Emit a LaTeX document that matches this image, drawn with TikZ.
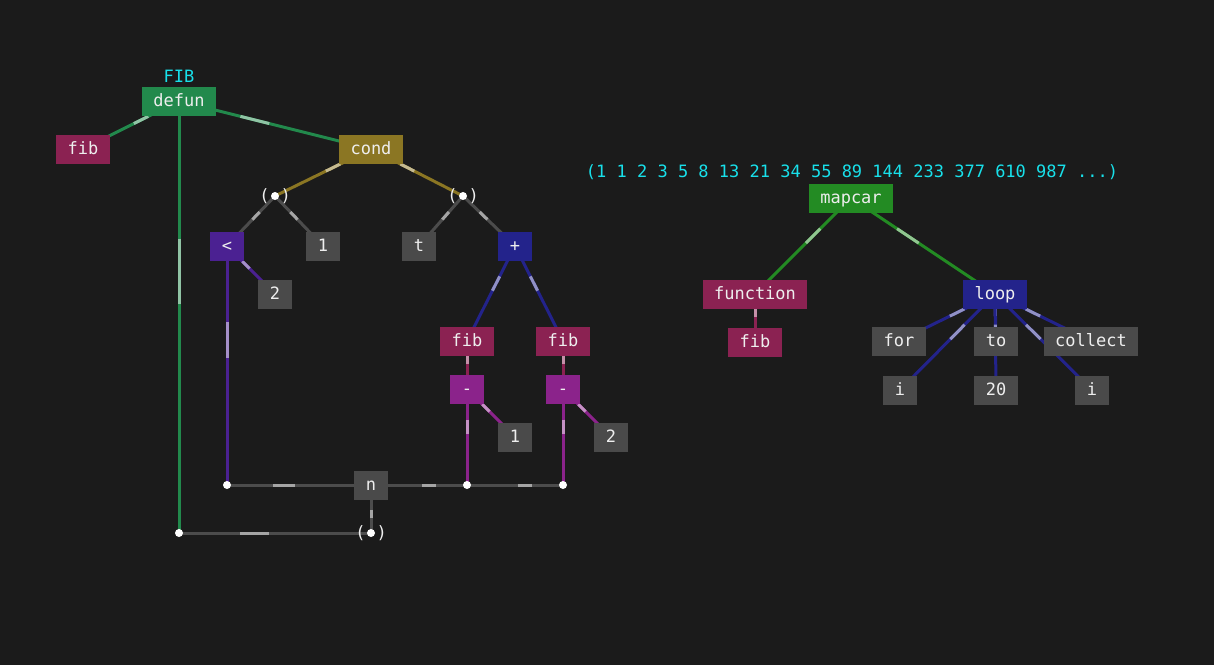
\documentclass[tikz,border=0pt]{standalone}
\usepackage{fontspec}
\setmonofont{DejaVu Sans Mono}
\usepackage{xcolor}
\usetikzlibrary{calc}
\definecolor{bgc}{HTML}{1B1B1B}
\definecolor{boxtext}{HTML}{EEEEEE}
\definecolor{cyanTxt}{HTML}{18E0EA}
\definecolor{defunGreen}{HTML}{22894C}
\definecolor{mapGreen}{HTML}{238B23}
\definecolor{fibRed}{HTML}{8B2252}
\definecolor{condOlive}{HTML}{8B7623}
\definecolor{ltPurple}{HTML}{4B2192}
\definecolor{opNavy}{HTML}{23238B}
\definecolor{minusMag}{HTML}{8B238B}
\definecolor{atomGray}{HTML}{4A4A4A}
\definecolor{wireGray}{HTML}{4C4C4C}
\pgfdeclarelayer{back}
\pgfdeclarelayer{wires}
\pgfsetlayers{back,wires,main}
\tikzset{
  box/.style={rectangle, fill=#1, text=boxtext, font=\ttfamily\fontsize{17}{19}\selectfont,
    minimum height=29pt, inner xsep=11.5pt, inner ysep=0pt, text height=13pt, text depth=3pt},
  box/.default=atomGray,
  cyanLbl/.style={text=cyanTxt, font=\ttfamily\fontsize{17}{19}\selectfont, inner sep=0pt},
  parenLbl/.style={text=boxtext, font=\ttfamily\fontsize{17}{19}\selectfont, inner sep=0pt},
  wire/.style={line width=3pt},
  dot/.style={circle, fill=white, inner sep=0pt, minimum size=8pt},
}
% line from parent to child, with a light band a third of the way down
\newcommand{\lnk}[3]{%
  \draw[wire, draw=#1] (#2) -- (#3);
  \draw[wire, draw=#1!50!white] ($(#2)!0.32!(#3)$) -- ($(#2)!0.47!(#3)$);
}
\begin{document}
\begin{tikzpicture}[x=1pt, y=-1pt]
  \begin{pgfonlayer}{back}
    \fill[bgc] (0,0) rectangle (1214,665);
  \end{pgfonlayer}

  % fib definition
  \node[cyanLbl] (name) at (179,76) {FIB};
  \node[box=defunGreen] (defun) at (179,101) {defun};
  \node[box=fibRed] (fibname) at (83,149) {fib};
  \node[box=condOlive] (cond) at (371,149) {cond};
  \node[parenLbl] (pa) at (275,196) {(\hspace{11pt})};
  \node[parenLbl] (pb) at (463,196) {(\hspace{11pt})};
  \node[box=ltPurple] (lt) at (227,246) {<};
  \node[box] (one) at (323,246) {1};
  \node[box] (tt) at (419,246) {t};
  \node[box=opNavy] (plus) at (515,246) {+};
  \node[box] (two) at (275,294) {2};
  \node[box=fibRed] (fibl) at (467,341) {fib};
  \node[box=fibRed] (fibr) at (563,341) {fib};
  \node[box=minusMag] (minl) at (467,389) {-};
  \node[box=minusMag] (minr) at (563,389) {-};
  \node[box] (onel) at (515,437) {1};
  \node[box] (twor) at (611,437) {2};
  \node[box] (n) at (371,485) {n};
  \node[parenLbl] (args) at (371,533) {(\hspace{11pt})};

  \coordinate (useA) at (227,485);
  \coordinate (useB) at (467,485);
  \coordinate (useC) at (563,485);
  \coordinate (corner) at (179,533);

  % mapcar
  \node[cyanLbl] (result) at (852,172) {(1 1 2 3 5 8 13 21 34 55 89 144 233 377 610 987 ...)};
  \node[box=mapGreen] (mapcar) at (851,198) {mapcar};
  \node[box=fibRed] (function) at (755,294) {function};
  \node[box=opNavy] (loop) at (995,294) {loop};
  \node[box=fibRed] (fibfn) at (755,342) {fib};
  \node[box] (for) at (899,341) {for};
  \node[box] (to) at (996,341) {to};
  \node[box] (collect) at (1091,341) {collect};
  \node[box] (ivar) at (900,390) {i};
  \node[box] (twenty) at (996,390) {20};
  \node[box] (icol) at (1092,390) {i};

  \begin{pgfonlayer}{wires}
    \lnk{defunGreen}{defun.center}{fibname.center}
    \lnk{defunGreen}{defun.center}{cond.center}
    \lnk{defunGreen}{defun.center}{corner}
    \lnk{wireGray}{corner}{args.center}
    \lnk{condOlive}{cond.center}{pa.center}
    \lnk{condOlive}{cond.center}{pb.center}
    \lnk{wireGray}{pa.center}{lt.center}
    \lnk{wireGray}{pa.center}{one.center}
    \lnk{wireGray}{pb.center}{tt.center}
    \lnk{wireGray}{pb.center}{plus.center}
    \lnk{ltPurple}{lt.center}{two.center}
    \lnk{ltPurple}{lt.center}{useA}
    \lnk{opNavy}{plus.center}{fibl.center}
    \lnk{opNavy}{plus.center}{fibr.center}
    \lnk{fibRed}{fibl.center}{minl.center}
    \lnk{fibRed}{fibr.center}{minr.center}
    \lnk{minusMag}{minl.center}{onel.center}
    \lnk{minusMag}{minr.center}{twor.center}
    \lnk{minusMag}{minl.center}{useB}
    \lnk{minusMag}{minr.center}{useC}
    \lnk{wireGray}{useA}{n.center}
    \lnk{wireGray}{useB}{n.center}
    \lnk{wireGray}{useC}{useB}
    \lnk{wireGray}{args.center}{n.center}

    \lnk{mapGreen}{mapcar.center}{function.center}
    \lnk{mapGreen}{mapcar.center}{loop.center}
    \lnk{fibRed}{function.center}{fibfn.center}
    \lnk{opNavy}{loop.center}{for.center}
    \lnk{opNavy}{loop.center}{ivar.center}
    \lnk{opNavy}{loop.center}{to.center}
    \lnk{opNavy}{loop.center}{twenty.center}
    \lnk{opNavy}{loop.center}{collect.center}
    \lnk{opNavy}{loop.center}{icol.center}
  \end{pgfonlayer}

  \node[dot] at (pa) {};
  \node[dot] at (pb) {};
  \node[dot] at (args) {};
  \node[dot] at (useA) {};
  \node[dot] at (useB) {};
  \node[dot] at (useC) {};
  \node[dot] at (corner) {};
\end{tikzpicture}
\end{document}
